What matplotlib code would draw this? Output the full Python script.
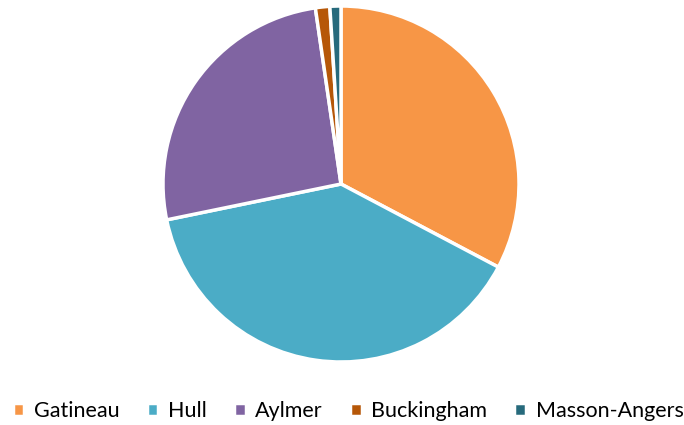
import matplotlib
matplotlib.use("Agg")
import matplotlib.pyplot as plt

# datos
secteurs = ["Gatineau", "Hull", "Aylmer", "Buckingham", "Masson-Angers"]
parts = [32.7, 39.0, 25.9, 1.3, 1.0]
couleurs = ["#F79646", "#4BACC6", "#8064A2", "#B65708", "#276A7C"]

plt.rcParams["font.family"] = ["Lato", "DejaVu Sans"]

fig = plt.figure(figsize=(6.84, 4.25), dpi=100)
# pie centrado en (341,184) px, radio ~178 px
r = 178
cx, cy = 341, 184
ax = fig.add_axes([(cx - r) / 684, (425 - cy - r) / 425, 2 * r / 684, 2 * r / 425])
wedges, _ = ax.pie(parts, colors=couleurs, startangle=90, counterclock=False,
                   wedgeprops=dict(edgecolor="white", linewidth=2.5))
ax.set_xlim(-1, 1)
ax.set_ylim(-1, 1)
ax.set_aspect("auto")

leg = fig.legend(wedges, secteurs, loc="center", bbox_to_anchor=(0.509, 1 - 411 / 425),
                 ncol=5, frameon=False, fontsize=15.5, handlelength=0.55, handleheight=0.55,
                 handletextpad=0.45, columnspacing=1.25)

plt.savefig("out.png", dpi=100)
